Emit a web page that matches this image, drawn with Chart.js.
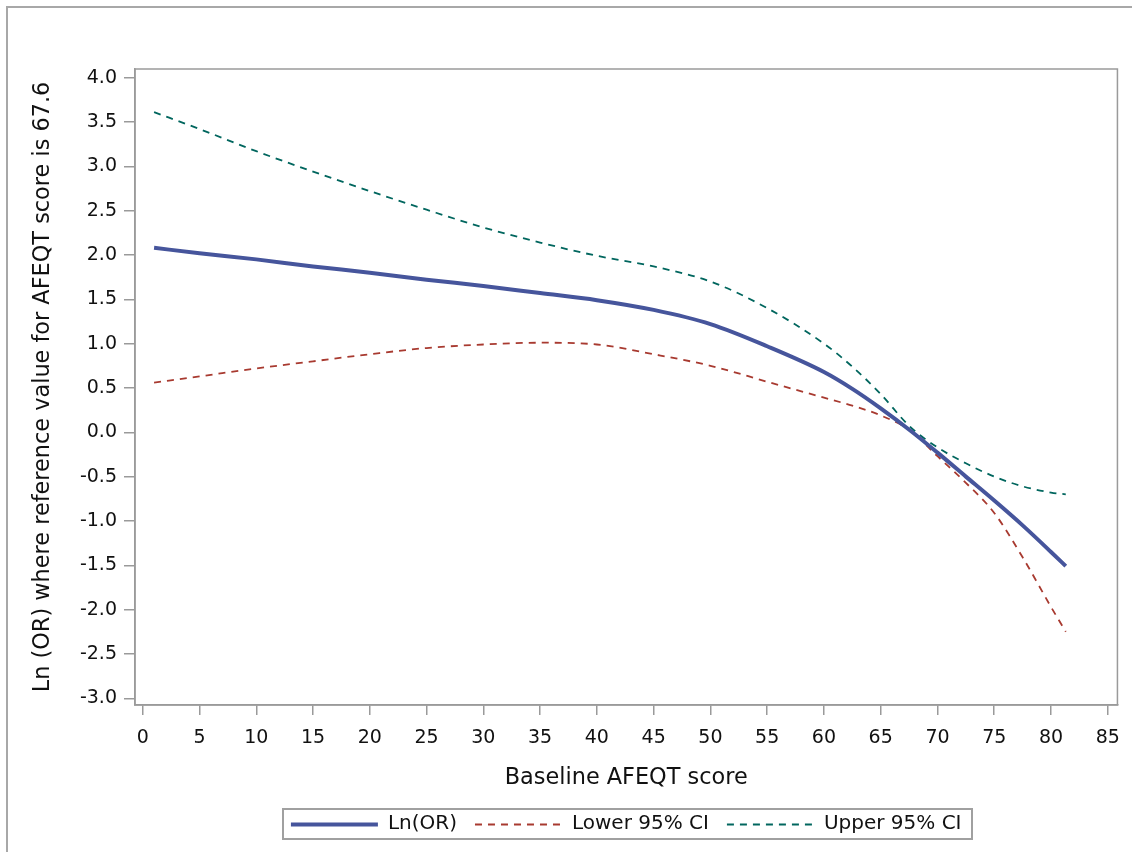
<!DOCTYPE html>
<html><head><meta charset="utf-8">
<script src="https://cdn.jsdelivr.net/npm/chart.js@4/dist/chart.umd.min.js"></script>
<style>
html,body{margin:0;padding:0;background:#fff;overflow:hidden;width:1132px;height:852px;}
#frame{position:absolute;left:6px;top:6px;width:1200px;height:900px;border:2px solid #a8a8a8;box-sizing:border-box;}
#wrap{position:absolute;left:0;top:0;width:1132px;height:852px;}
</style></head><body>
<div id="frame"></div>
<div id="wrap"><canvas id="c" width="1132" height="852"></canvas></div>
<script>
const afeqtScores = [1, 5, 10, 15, 20, 25, 30, 35, 40, 45, 50, 55, 60, 62.5, 65, 67.6, 70, 72.5, 75, 77.5, 80, 81.3];
const lnOR   = [2.08, 2.02, 1.95, 1.87, 1.80, 1.72, 1.65, 1.57, 1.49, 1.38, 1.22, 0.97, 0.68, 0.49, 0.27, 0.02, -0.23, -0.50, -0.77, -1.05, -1.35, -1.51];
const lower95 = [0.56, 0.63, 0.72, 0.80, 0.88, 0.95, 0.99, 1.01, 0.99, 0.88, 0.75, 0.57, 0.39, 0.30, 0.19, 0.02, -0.27, -0.57, -0.91, -1.41, -1.97, -2.25];
const upper95 = [3.61, 3.42, 3.17, 2.94, 2.72, 2.51, 2.31, 2.14, 1.99, 1.87, 1.70, 1.40, 1.00, 0.74, 0.43, 0.06, -0.17, -0.35, -0.50, -0.61, -0.68, -0.70];
const xTickLabels = [0, 5, 10, 15, 20, 25, 30, 35, 40, 45, 50, 55, 60, 65, 70, 75, 80, 85];
const yTickLabels = [-3.0, -2.5, -2.0, -1.5, -1.0, -0.5, 0.0, 0.5, 1.0, 1.5, 2.0, 2.5, 3.0, 3.5, 4.0];
const seriesNames = ['Ln(OR)', 'Lower 95% CI', 'Upper 95% CI'];
const xTitle = 'Baseline AFEQT score';
const yTitle = 'Ln (OR) where reference value for AFEQT score is 67.6';

const FONT = "'DejaVu Sans', 'Noto Sans', sans-serif";
const SAMPLE_W = 87;
const PLOT_BOTTOM = 705;
const toPts = ys => afeqtScores.map((x, i) => ({x: x, y: ys[i]}));

const framePlugin = {
  id: 'frame',
  afterLayout(chart) {
    const lg = chart.legend, a = chart.chartArea;
    if (!lg) return;
    const shift = (a.left + a.right) / 2 - (lg.left + lg.right) / 2;
    lg.left += shift; lg.right += shift;
  },
  afterDraw(chart) {
    const ctx = chart.ctx, a = chart.chartArea;
    ctx.save();
    ctx.strokeStyle = '#9a9a9a';
    ctx.lineWidth = 1.5;
    ctx.setLineDash([]);
    ctx.strokeRect(a.left, a.top, a.right - a.left, a.bottom - a.top);
    const lg = chart.legend;
    if (lg && lg.legendHitBoxes && lg.legendHitBoxes.length) {
      const hb = lg.legendHitBoxes;
      let x0 = Infinity, x1 = -Infinity, y0 = Infinity, y1 = -Infinity;
      hb.forEach((b, i) => {
        x0 = Math.min(x0, b.left); x1 = Math.max(x1, b.left + b.width);
        y0 = Math.min(y0, b.top); y1 = Math.max(y1, b.top + b.height);
        const ds = chart.data.datasets[i];
        const yc = Math.round(b.top + b.height / 2) + 0.5;
        ctx.beginPath();
        ctx.strokeStyle = ds.borderColor;
        ctx.lineWidth = ds.borderWidth;
        ctx.setLineDash(ds.borderDash || []);
        ctx.moveTo(b.left, yc);
        ctx.lineTo(b.left + SAMPLE_W, yc);
        ctx.stroke();
      });
      ctx.setLineDash([]);
      ctx.strokeStyle = '#a0a0a0';
      ctx.lineWidth = 2;
      ctx.strokeRect(Math.round(x0 - 8), Math.round(y0 - 5), Math.round(x1 - x0 + 18), Math.round(y1 - y0 + 10));
    }
    ctx.restore();
  }
};

new Chart(document.getElementById('c'), {
  type: 'line',
  data: {
    datasets: [
      {label: seriesNames[0], data: toPts(lnOR), borderColor: '#46559c', backgroundColor: '#46559c', borderWidth: 4, pointRadius: 0, cubicInterpolationMode: 'monotone', fill: false},
      {label: seriesNames[1], data: toPts(lower95), borderColor: '#a83a30', backgroundColor: '#a83a30', borderWidth: 1.8, borderDash: [7, 6], pointRadius: 0, cubicInterpolationMode: 'monotone', fill: false},
      {label: seriesNames[2], data: toPts(upper95), borderColor: '#01665e', backgroundColor: '#01665e', borderWidth: 1.8, borderDash: [7, 6], pointRadius: 0, cubicInterpolationMode: 'monotone', fill: false}
    ]
  },
  options: {
    responsive: false,
    animation: false,
    devicePixelRatio: 1,
    layout: {padding: {top: 69, right: 13, bottom: 8, left: 0}},
    plugins: {
      tooltip: {enabled: false},
      legend: {
        position: 'bottom',
        labels: {
          usePointStyle: false,
          boxWidth: SAMPLE_W,
          boxHeight: 18,
          padding: 18,
          color: '#111',
          font: {family: FONT, size: 20},
          generateLabels: chart => Chart.defaults.plugins.legend.labels.generateLabels(chart).map(it => Object.assign(it, {fillStyle: 'rgba(0,0,0,0)', strokeStyle: 'rgba(0,0,0,0)', lineWidth: 0, lineDash: []}))
        }
      }
    },
    scales: {
      x: {
        type: 'linear',
        min: -0.68, max: 85.85,
        afterBuildTicks: s => { s.ticks = xTickLabels.map(v => ({value: v})); },
        afterFit: s => {
          const lg = s.chart.legend;
          const lh = lg && lg.height ? lg.height : 48;
          s.height = 852 - 8 - lh - PLOT_BOTTOM;
        },
        ticks: {color: '#111', font: {family: FONT, size: 19}, padding: 12, maxRotation: 0, autoSkip: false, callback: v => String(v)},
        grid: {display: true, drawOnChartArea: false, drawTicks: true, tickLength: 10, color: '#9a9a9a', lineWidth: 1.5},
        border: {display: true, color: '#9a9a9a', width: 1.5},
        title: {display: true, text: xTitle, color: '#111', font: {family: FONT, size: 22.4}, padding: {top: 4, bottom: 4}}
      },
      y: {
        type: 'linear',
        min: -3.076, max: 4.097,
        afterBuildTicks: s => { s.ticks = yTickLabels.map(v => ({value: v})); },
        afterFit: s => { s.width = 135; },
        ticks: {color: '#111', font: {family: FONT, size: 19}, padding: 7, autoSkip: false, callback: v => Number(v).toFixed(1)},
        grid: {display: true, drawOnChartArea: false, drawTicks: true, tickLength: 11, color: '#9a9a9a', lineWidth: 1.5},
        border: {display: true, color: '#9a9a9a', width: 1.5},
        title: {display: true, text: yTitle, color: '#111', font: {family: FONT, size: 22.4}, padding: {top: 30, bottom: 0}}
      }
    }
  },
  plugins: [framePlugin]
});
</script>
</body></html>
